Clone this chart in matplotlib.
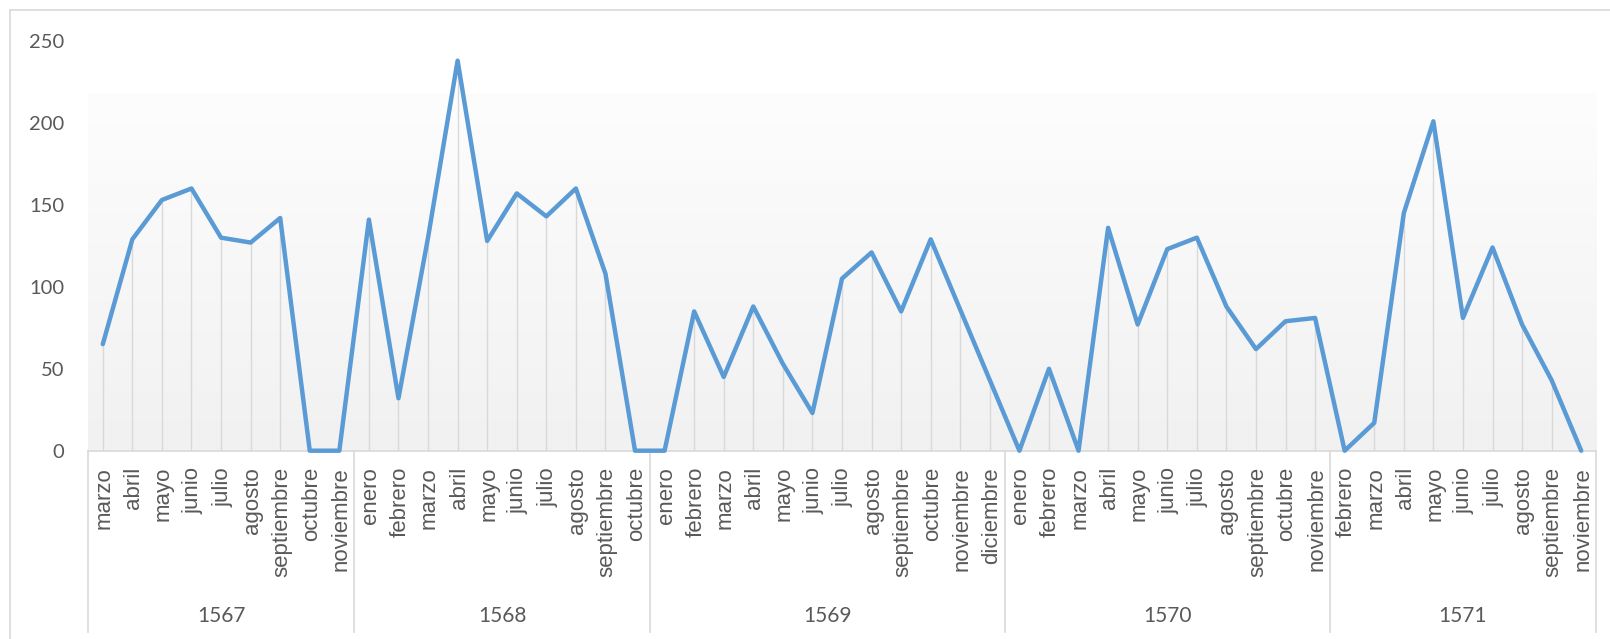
import numpy as np
import matplotlib
matplotlib.use('Agg')
import matplotlib.pyplot as plt
from matplotlib import font_manager
from matplotlib.lines import Line2D

# datos por año
years = ['1567', '1568', '1569', '1570', '1571']
meses_1567 = ['marzo', 'abril', 'mayo', 'junio', 'julio', 'agosto', 'septiembre', 'octubre', 'noviembre']
valores_1567 = [65, 129, 153, 160, 130, 127, 142, 0, 0]
meses_1568 = ['enero', 'febrero', 'marzo', 'abril', 'mayo', 'junio', 'julio', 'agosto', 'septiembre', 'octubre']
valores_1568 = [141, 32, 130, 238, 128, 157, 143, 160, 108, 0]
meses_1569 = ['enero', 'febrero', 'marzo', 'abril', 'mayo', 'junio', 'julio', 'agosto', 'septiembre',
              'octubre', 'noviembre', 'diciembre']
valores_1569 = [0, 85, 45, 88, 53, 23, 105, 121, 85, 129, 86, 43]
meses_1570 = ['enero', 'febrero', 'marzo', 'abril', 'mayo', 'junio', 'julio', 'agosto', 'septiembre',
              'octubre', 'noviembre']
valores_1570 = [0, 50, 0, 136, 77, 123, 130, 88, 62, 79, 81]
meses_1571 = ['febrero', 'marzo', 'abril', 'mayo', 'junio', 'julio', 'agosto', 'septiembre', 'noviembre']
valores_1571 = [0, 17, 145, 201, 81, 124, 77, 43, 0]

meses = [meses_1567, meses_1568, meses_1569, meses_1570, meses_1571]
valores = [valores_1567, valores_1568, valores_1569, valores_1570, valores_1571]

etiquetas = [m for grupo in meses for m in grupo]
y = np.array([v for grupo in valores for v in grupo])
x = np.arange(len(y))

# fuentes
nombres = {f.name for f in font_manager.fontManager.ttflist}
if 'Liberation Sans Narrow' in nombres:
    fuente_mes, tam_mes = 'Liberation Sans Narrow', 19.5
else:
    fuente_mes, tam_mes = 'Liberation Sans', 16
fuente_num = 'Lato' if 'Lato' in nombres else 'DejaVu Sans'
gris_texto = '#595959'
gris_linea = '#d9d9d9'

W, H = 1610, 639
fig = plt.figure(figsize=(W / 100, H / 100), dpi=100)
x0, x1 = 88, 1596
y0, y1 = 450.7, 41
ax = fig.add_axes([x0 / W, 1 - y0 / H, (x1 - x0) / W, (y0 - y1) / H])

ax.set_xlim(-0.5, len(y) - 0.5)
ax.set_ylim(0, 250)

# fondo degradado del área de trazado
grad = np.linspace(0, 1, 256).reshape(-1, 1)
ax.imshow(grad, cmap=matplotlib.colors.LinearSegmentedColormap.from_list('g', ['#f1f1f1', '#fdfdfd']),
          extent=[-0.5, len(y) - 0.5, 0, 218], aspect='auto', origin='lower', zorder=0)

# líneas de caída
ax.vlines(x, 0, y, colors=gris_linea, linewidth=1.0, zorder=1)
# serie
ax.plot(x, y, color='#5b9bd5', linewidth=3.2, solid_joinstyle='round', solid_capstyle='round', zorder=3,
        clip_on=False)

for s in ['top', 'right', 'left']:
    ax.spines[s].set_visible(False)
ax.spines['bottom'].set_color(gris_linea)
ax.spines['bottom'].set_linewidth(1.2)

ax.set_yticks([0, 50, 100, 150, 200, 250])
ax.tick_params(axis='y', length=0, pad=17, labelsize=14.5, labelcolor=gris_texto)
for lab in ax.get_yticklabels():
    lab.set_fontfamily(fuente_num)
ax.set_xticks([])

# etiquetas de meses y años (eje de categorías en dos niveles)
tr = ax.get_xaxis_transform()
for xi, et in zip(x, etiquetas):
    ax.text(xi + 0.05, -0.04, et, transform=tr, rotation=90, ha='center', va='top',
            fontsize=tam_mes, color=gris_texto, family=fuente_mes)

limites = [-0.5]
for grupo in meses:
    limites.append(limites[-1] + len(grupo))
for b in limites:
    ax.plot([b, b], [0, -0.4425], transform=tr, color=gris_linea, linewidth=1.2, clip_on=False)
for i, anio in enumerate(years):
    ax.text((limites[i] + limites[i + 1]) / 2, -0.4035, anio, transform=tr, ha='center', va='center',
            fontsize=15, color=gris_texto, family=fuente_num)

# borde del gráfico
fig.add_artist(Line2D([10 / W, 10 / W], [0, 1 - 10 / H], color=gris_linea, linewidth=1.2))
fig.add_artist(Line2D([10 / W, 1], [1 - 10 / H, 1 - 10 / H], color=gris_linea, linewidth=1.2))

fig.savefig('out.png', dpi=100, facecolor='white')
